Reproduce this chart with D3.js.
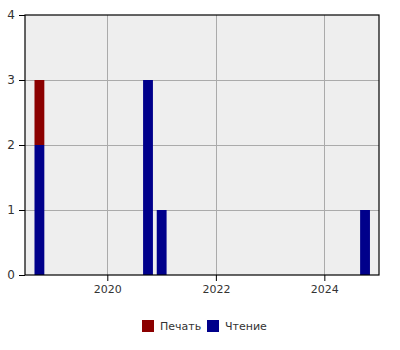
<!DOCTYPE html>
<html>
<head>
<meta charset="utf-8">
<script src="https://cdn.jsdelivr.net/npm/d3@7"></script>
<style>
  body { margin: 0; background: #fff; }
  text { font-family: "DejaVu Sans", sans-serif; fill: #333; }
</style>
</head>
<body>
<svg id="chart"></svg>
<script>
'use strict'

const width = 400,
      height = 350,
      margin = { top: 15, right: 21, bottom: 75, left: 25 }

// quarters (start dates) and counts per series
const periods = ["2018-10-01", "2020-10-01", "2021-01-01", "2024-10-01"]
const reading = [2, 3, 1, 1]   // Чтение
const printing = [1, 0, 0, 0]  // Печать
const seriesNames = ["Чтение", "Печать"]
const seriesColors = ["#00008b", "#8b0000"]
const yTicks = [0, 1, 2, 3, 4]
const xTickYears = [2020, 2022, 2024]
const xDomain = ["2018-06-26", "2025-01-03"]

const parse = d3.timeParse("%Y-%m-%d")
const rows = periods.map((p, i) => ({ date: parse(p), "Чтение": reading[i], "Печать": printing[i] }))

const svg = d3.select("#chart").attr("width", width).attr("height", height)
const innerW = width - margin.left - margin.right,
      innerH = height - margin.top - margin.bottom

const x = d3.scaleTime().domain(xDomain.map(parse)).range([0, innerW])
const y = d3.scaleLinear().domain([0, 4]).range([innerH, 0])

const g = svg.append("g").attr("transform", `translate(${margin.left},${margin.top})`)

// plot background
g.append("rect").attr("width", innerW).attr("height", innerH).attr("fill", "#eeeeee")

// grid
const xTicks = xTickYears.map(yr => new Date(yr, 0, 1))
g.append("g").selectAll("line").data(xTicks).enter().append("line")
  .attr("x1", d => Math.round(x(d)) + 0.5).attr("x2", d => Math.round(x(d)) + 0.5)
  .attr("y1", 0).attr("y2", innerH)
  .attr("stroke", "#aaaaaa").attr("stroke-width", 1)
g.append("g").selectAll("line").data(yTicks.slice(1, -1)).enter().append("line")
  .attr("y1", d => Math.round(y(d)) + 0.5).attr("y2", d => Math.round(y(d)) + 0.5)
  .attr("x1", 0).attr("x2", innerW)
  .attr("stroke", "#aaaaaa").attr("stroke-width", 1)

// stacked bars
const stack = d3.stack().keys(seriesNames)(rows)
const barW = (x(parse("2021-01-01")) - x(parse("2020-10-01"))) * 0.72
g.append("g").selectAll("g").data(stack).enter().append("g")
    .attr("fill", (d, i) => seriesColors[i])
  .selectAll("rect").data(d => d.filter(s => s[1] > s[0])).enter().append("rect")
    .attr("x", d => x(d.data.date) - barW / 2)
    .attr("width", barW)
    .attr("y", d => y(d[1]))
    .attr("height", d => y(d[0]) - y(d[1]))

// frame
g.append("rect").attr("width", innerW).attr("height", innerH)
  .attr("fill", "none").attr("stroke", "#000").attr("stroke-width", 1.2)

// axes
const xAxis = g.append("g").attr("transform", `translate(0,${innerH})`)
  .call(d3.axisBottom(x).tickValues(xTicks).tickFormat(d3.timeFormat("%Y")).tickSize(6).tickPadding(4))
const yAxis = g.append("g")
  .call(d3.axisLeft(y).tickValues(yTicks).tickFormat(d3.format("d")).tickSize(6).tickPadding(4))
;[xAxis, yAxis].forEach(a => {
  a.select(".domain").remove()
  a.selectAll("line").attr("stroke", "#000")
  a.selectAll("text").attr("font-size", 11).attr("fill", "#333").style("font-family", '"DejaVu Sans", sans-serif')
})
yAxis.selectAll("text").attr("font-size", 12)

// legend
const legendItems = [{ name: "Печать", color: seriesColors[1] }, { name: "Чтение", color: seriesColors[0] }]
const legend = svg.append("g").attr("transform", "translate(142,320)")
const offsets = [0, 65]
legendItems.forEach((d, i) => {
  const it = legend.append("g").attr("transform", `translate(${offsets[i]},0)`)
  it.append("rect").attr("width", 12).attr("height", 12).attr("fill", d.color)
  it.append("text").attr("x", 18).attr("y", 10).attr("font-size", 11).text(d.name)
})
</script>
</body>
</html>
